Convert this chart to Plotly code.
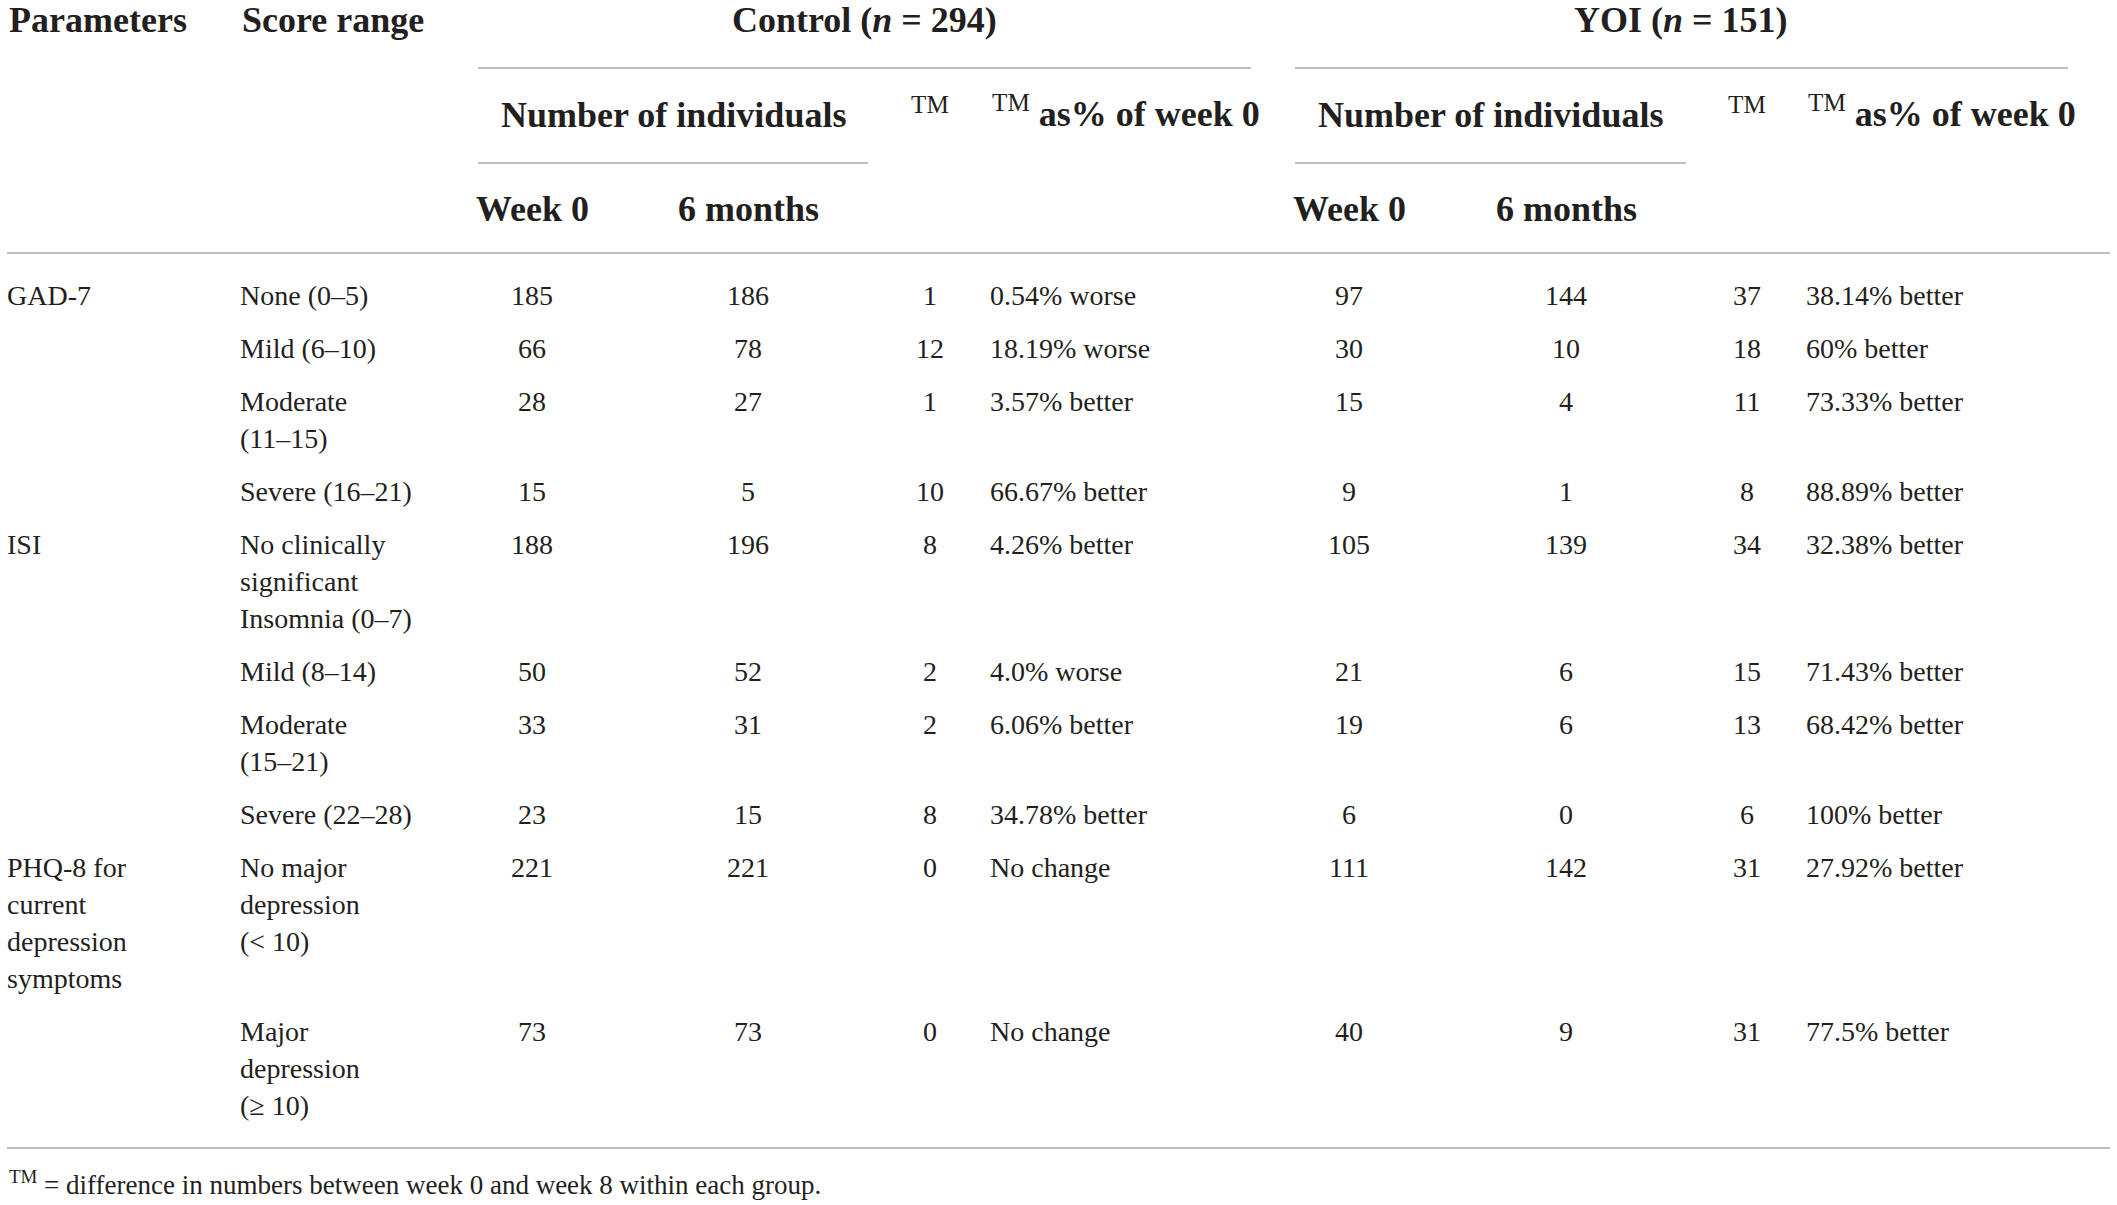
import plotly.graph_objects as go

# table contents
parameters = ["GAD-7", "", "", "", "ISI", "", "", "",
              "PHQ-8 for\ncurrent\ndepression\nsymptoms", ""]
score_ranges = ["None (0–5)", "Mild (6–10)", "Moderate\n(11–15)", "Severe (16–21)",
                "No clinically\nsignificant\nInsomnia (0–7)", "Mild (8–14)",
                "Moderate\n(15–21)", "Severe (22–28)",
                "No major\ndepression\n(< 10)", "Major\ndepression\n(≥ 10)"]
control_week0 = [185, 66, 28, 15, 188, 50, 33, 23, 221, 73]
control_6m = [186, 78, 27, 5, 196, 52, 31, 15, 221, 73]
control_tm = [1, 12, 1, 10, 8, 2, 2, 8, 0, 0]
control_pct = ["0.54% worse", "18.19% worse", "3.57% better", "66.67% better",
               "4.26% better", "4.0% worse", "6.06% better", "34.78% better",
               "No change", "No change"]
yoi_week0 = [97, 30, 15, 9, 105, 21, 19, 6, 111, 40]
yoi_6m = [144, 10, 4, 1, 139, 6, 6, 0, 142, 9]
yoi_tm = [37, 18, 11, 8, 34, 15, 13, 6, 31, 31]
yoi_pct = ["38.14% better", "60% better", "73.33% better", "88.89% better",
           "32.38% better", "71.43% better", "68.42% better", "100% better",
           "27.92% better", "77.5% better"]
footnote = "<sup>TM</sup> = difference in numbers between week 0 and week 8 within each group."

W, H = 2117, 1205
INK = "#231f20"
RULE = "#bdbdbd"
BODY = 28
HEAD = 36
LINE_H = 37
ROW_GAP = 53
FONT = "Liberation Serif"

# column anchors (x) and alignment
columns = [
    (parameters, 7, "left"),
    (score_ranges, 240, "left"),
    (control_week0, 532, "center"),
    (control_6m, 748, "center"),
    (control_tm, 930, "center"),
    (control_pct, 990, "left"),
    (yoi_week0, 1349, "center"),
    (yoi_6m, 1566, "center"),
    (yoi_tm, 1747, "center"),
    (yoi_pct, 1806, "left"),
]

# row y positions from the number of lines in each row
row_y = []
y = 298
for i in range(len(score_ranges)):
    row_y.append(y)
    n = max(len(str(col[i]).split("\n")) for col, _, _ in columns)
    y += ROW_GAP + LINE_H * (n - 1)

fig = go.Figure()

for values, x0, align in columns:
    xs, ys, ts = [], [], []
    for v, ry in zip(values, row_y):
        for k, part in enumerate(str(v).split("\n")):
            if part:
                xs.append(x0)
                ys.append(ry + k * LINE_H)
                ts.append(part)
    fig.add_trace(go.Scatter(
        x=xs, y=ys, text=ts, mode="text",
        textposition="middle right" if align == "left" else "middle center",
        textfont=dict(family=FONT, size=BODY, color=INK),
        hoverinfo="skip", showlegend=False))

# header cells
headers = [
    ("<b>Parameters</b>", 7, 20, "left"),
    ("<b>Score range</b>", 240, 20, "left"),
    ("<b>Control (<i>n</i> = 294)</b>", 864, 20, "center"),
    ("<b>YOI (<i>n</i> = 151)</b>", 1681, 20, "center"),
    ("<b>Number of individuals</b>", 673, 115, "center"),
    ("<b>Number of individuals</b>", 1490, 115, "center"),
    ("<sup>TM</sup>", 930, 104, "center"),
    ("<sup>TM</sup>", 1747, 104, "center"),
    ("<sup>TM</sup><b> as% of week 0</b>", 990, 111, "left"),
    ("<sup>TM</sup><b> as% of week 0</b>", 1806, 111, "left"),
    ("<b>Week 0</b>", 532, 209, "center"),
    ("<b>6 months</b>", 748, 209, "center"),
    ("<b>Week 0</b>", 1349, 209, "center"),
    ("<b>6 months</b>", 1566, 209, "center"),
]
for t, hx, hy, align in headers:
    fig.add_annotation(
        x=hx, y=hy, xref="x", yref="y", text=t, showarrow=False,
        xanchor=align, yanchor="middle",
        font=dict(family=FONT, size=HEAD, color=INK))

fig.add_annotation(
    x=7, y=1183, xref="x", yref="y", text=footnote, showarrow=False,
    xanchor="left", yanchor="middle",
    font=dict(family=FONT, size=27, color=INK))

# table rules
rules = [
    (478, 1251, 68), (1295, 2068, 68),
    (478, 868, 163), (1295, 1686, 163),
    (7, 2110, 253), (7, 2110, 1148),
]
for xa, xb, ly in rules:
    fig.add_shape(type="line", x0=xa, x1=xb, y0=ly, y1=ly, xref="x", yref="y",
                  line=dict(color=RULE, width=2))

fig.update_xaxes(range=[0, W], visible=False, fixedrange=True)
fig.update_yaxes(range=[H, 0], visible=False, fixedrange=True)
fig.update_layout(
    width=W, height=H,
    margin=dict(l=0, r=0, t=0, b=0),
    plot_bgcolor="white", paper_bgcolor="white",
)

# drop the page's default body margin so the table fills the window
fig.write_html("out.html", config={"displayModeBar": False},
               post_script="document.body.style.margin = '0px';")
